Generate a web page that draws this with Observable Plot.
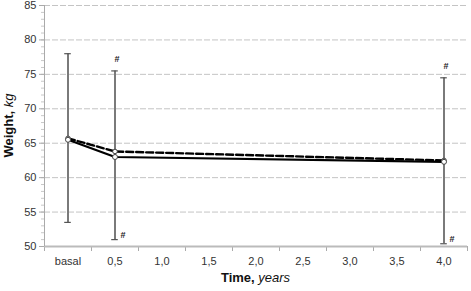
<!DOCTYPE html>
<html>
<head>
<meta charset="utf-8">
<script src="https://cdn.jsdelivr.net/npm/d3@7"></script>
<script src="https://cdn.jsdelivr.net/npm/@observablehq/plot@0.6"></script>
<style>
  html, body { margin: 0; padding: 0; background: #fff; }
  svg { font-family: "Liberation Sans", Arial, sans-serif; overflow: visible; }
</style>
</head>
<body>
<div id="chart"></div>
<script>
// Category labels of the x axis
const categories = ["basal", "0,5", "1,0", "1,5", "2,0", "2,5", "3,0", "3,5", "4,0"];
// Measured time points (index into categories)
const timeIndex = [0, 1, 8];
// Series values (kg)
const solidValues = [65.5, 63.0, 62.3];
const dashedValues = [65.7, 63.8, 62.5];
// Error bars (SD range)
const errLow = [53.5, 51.0, 50.4];
const errHigh = [78.0, 75.5, 74.5];
// Significance marks: which time points carry "#"
const hashTop = [false, true, true];
const hashBottom = [false, true, true];
const yTicks = [50, 55, 60, 65, 70, 75, 80, 85];

const solid = timeIndex.map((x, i) => ({x, y: solidValues[i]}));
const dashed = timeIndex.map((x, i) => ({x, y: dashedValues[i]}));
const errs = timeIndex.map((x, i) => ({x, lo: errLow[i], hi: errHigh[i]}));
const caps = errs.flatMap(d => [{x: d.x, y: d.lo}, {x: d.x, y: d.hi}]);
const topMarks = errs.filter((d, i) => hashTop[i]);
const botMarks = errs.filter((d, i) => hashBottom[i]);
const minorTicks = d3.range(50, 86, 1);
const boundaries = d3.range(-0.5, categories.length, 1);

const chart = Plot.plot({
  width: 471,
  height: 291,
  marginLeft: 44,
  marginRight: 4,
  marginTop: 5,
  marginBottom: 45,
  style: {fontFamily: "Liberation Sans, Arial, sans-serif", fontSize: "11px", color: "#333", overflow: "visible"},
  x: {type: "linear", domain: [-0.5, categories.length - 0.5]},
  y: {domain: [50, 85]},
  marks: [
    Plot.gridY(yTicks.slice(1), {stroke: "#c4c4c4", strokeOpacity: 1, strokeDasharray: "6,2", strokeWidth: 1}),
    Plot.axisY(minorTicks, {tickSize: 3, stroke: "#c8c8c8", text: null, label: null}),
    Plot.axisY(yTicks, {tickSize: 5, stroke: "#aaa", tickPadding: 3, fontSize: 11, fill: "#333", label: null}),
    Plot.axisX(boundaries, {tickSize: 5, stroke: "#aaa", text: null, label: null}),
    Plot.axisX(d3.range(categories.length), {tickSize: 0, tickPadding: 11, tickFormat: i => categories[i], fontSize: 11, fill: "#333", label: null}),
    Plot.ruleY([50], {stroke: "#bbb", strokeWidth: 2}),
    Plot.ruleX([-0.5], {stroke: "#aaa", strokeWidth: 1}),
    Plot.ruleX(errs, {x: "x", y1: "lo", y2: "hi", stroke: "#7a7a7a", strokeWidth: 2}),
    Plot.ruleY(caps, {y: "y", x1: d => d.x - 0.07, x2: d => d.x + 0.07, stroke: "#555", strokeWidth: 1.2}),
    Plot.line(dashed, {x: "x", y: "y", stroke: "#000", strokeWidth: 2.4, strokeDasharray: "7,3"}),
    Plot.line(solid, {x: "x", y: "y", stroke: "#000", strokeWidth: 2.2}),
    Plot.dot(dashed, {x: "x", y: "y", r: 2.3, fill: "#fff", stroke: "#444", strokeWidth: 1}),
    Plot.dot(solid, {x: "x", y: "y", r: 2.5, fill: "#fff", stroke: "#444", strokeWidth: 1}),
    Plot.text(topMarks, {x: "x", y: "hi", text: () => "#", dx: 2, dy: -12, fontWeight: "bold", fontSize: 9, fill: "#222"}),
    Plot.text(botMarks, {x: "x", y: "lo", text: () => "#", dx: 8, dy: -5, fontWeight: "bold", fontSize: 9, fill: "#222"})
  ]
});

const svg = d3.select(chart);
// Axis titles with mixed bold / italic styles
const yt = svg.append("text")
  .attr("transform", `translate(13,${(5 + 246) / 2}) rotate(-90)`)
  .attr("text-anchor", "middle")
  .attr("font-size", 13)
  .attr("fill", "#111");
yt.append("tspan").attr("font-weight", "bold").text("Weight, ");
yt.append("tspan").attr("font-style", "italic").text("kg");

const xt = svg.append("text")
  .attr("x", (44 + 467) / 2)
  .attr("y", 282)
  .attr("text-anchor", "middle")
  .attr("font-size", 13)
  .attr("fill", "#111");
xt.append("tspan").attr("font-weight", "bold").text("Time, ");
xt.append("tspan").attr("font-style", "italic").text("years");

document.getElementById("chart").appendChild(chart);
</script>
</body>
</html>
